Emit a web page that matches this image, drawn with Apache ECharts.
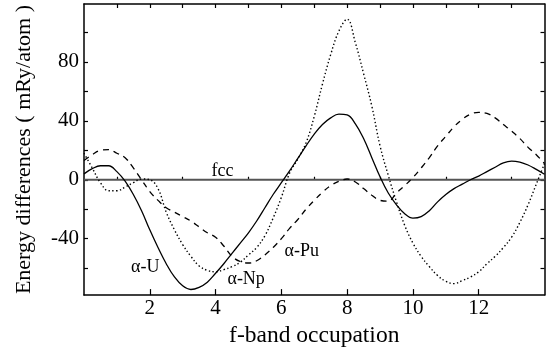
<!DOCTYPE html>
<html>
<head>
<meta charset="utf-8">
<script src="https://cdn.jsdelivr.net/npm/echarts@6/dist/echarts.min.js"></script>
<style>html,body{margin:0;padding:0;background:#fff}#c{width:548px;height:353px}</style>
</head>
<body>
<div id="c"></div>
<script>
var occupation = [0,0.25,0.5,0.75,1,1.25,1.5,1.75,2,2.25,2.5,2.75,3,3.25,3.5,3.75,4,4.25,4.5,4.75,5,5.25,5.5,5.75,6,6.25,6.5,6.75,7,7.25,7.5,7.75,8,8.25,8.5,8.75,9,9.25,9.5,9.75,10,10.25,10.5,10.75,11,11.25,11.5,11.75,12,12.25,12.5,12.75,13,13.25,13.5,13.75,14];
var alphaU  = [4,7.5,9.5,9.5,5.5,-1,-10,-21,-34,-46,-57,-66,-72,-74.5,-73,-69.5,-63.5,-57,-50,-43,-36,-28,-19,-10,-2,6,14.5,23,31,37.5,42,44.5,44,38,28,15,2,-9,-17,-23,-26,-25,-21,-15,-10,-6,-3,0,2.5,5.5,8.5,11.5,12.7,12,10,7,3.7];
var alphaNp = [18,8,-2,-7.5,-7.5,-5,-2,0.5,0,-6,-22,-34,-44,-52,-58.5,-61.5,-62.5,-61,-59,-56,-51,-46,-38,-26,-12,4.5,14,25,43,65,85,101,109,93,72,50,23,3,-15,-31,-43,-52,-59,-65,-69,-70.5,-68.5,-66,-62.5,-57,-52,-46,-39,-29,-17,-3,11];
var alphaPu = [13,17,20,20.5,18,15,8,0,-8,-14,-19,-22,-25,-28,-32,-36,-39,-45,-52,-55.5,-56.5,-55,-51,-46,-40,-33,-27,-20,-14,-8.5,-4,-1,0.5,-1.5,-6,-10.5,-14,-14.5,-9,-4,1.5,8,15,23,29.5,36,41,44.5,45.8,45,42,37.5,33,28,22,17,11];
var fccX = [0,14];
var fccY = [0,0];
var xTickLabels = [2,4,6,8,10,12];
var xMinorTicks = [1,3,5,7,9,11,13];
var xTopTicks = [1,2,3,4,5,6,7,8,9,10,11,12,13];
var yTickLabels = [-40,0,40,80];
var yTicks = [-60,-40,-20,0,20,40,60,80,100];
var labelTexts = ['fcc','α-U','α-Np','α-Pu'];
var labelX = [4.21,1.86,4.93,6.62];
var labelY = [5.9,-59.5,-67.4,-48.7];

var FONT = "'Liberation Serif','Times New Roman',serif";
function pairs(xs, ys){ return xs.map(function(x,i){ return [x, ys[i]]; }); }

var chart = echarts.init(document.getElementById('c'), null, {renderer:'canvas'});
var axLine = {show:true, onZero:false, lineStyle:{color:'#000', width:1.5}};
var option = {
  animation:false,
  backgroundColor:'#fff',
  grid:{left:84, right:3.5, top:4, bottom:55, containLabel:false},
  xAxis:[
    {type:'value', min:0, max:14, position:'bottom',
     axisLine:axLine,
     axisTick:{show:true, inside:true, length:6, customValues:xTickLabels, lineStyle:{color:'#000', width:1.2}},
     axisLabel:{show:true, customValues:xTickLabels, fontFamily:FONT, fontSize:21, color:'#000', margin:3},
     splitLine:{show:false},
     name:'f-band occupation', nameLocation:'middle', nameGap:24,
     nameTextStyle:{fontFamily:FONT, fontSize:23.5, color:'#000'}},
    {type:'value', min:0, max:14, position:'bottom',
     axisLine:{show:false},
     axisTick:{show:true, inside:true, length:3, customValues:xMinorTicks, lineStyle:{color:'#000', width:1.2}},
     axisLabel:{show:false}, splitLine:{show:false}},
    {type:'value', min:0, max:14, position:'top',
     axisLine:axLine,
     axisTick:{show:true, inside:true, length:4, customValues:xTopTicks, lineStyle:{color:'#000', width:1.2}},
     axisLabel:{show:false}, splitLine:{show:false}}
  ],
  yAxis:[
    {type:'value', min:-78.3, max:119.3, position:'left',
     axisLine:axLine,
     axisTick:{show:true, inside:true, length:4, customValues:yTicks, lineStyle:{color:'#000', width:1.2}},
     axisLabel:{show:true, customValues:yTickLabels, fontFamily:FONT, fontSize:21, color:'#000', margin:5},
     splitLine:{show:false},
     name:'Energy differences ( mRy/atom )', nameLocation:'middle', nameGap:49,
     nameTextStyle:{fontFamily:FONT, fontSize:22, color:'#000'}},
    {type:'value', min:-78.3, max:119.3, position:'right',
     axisLine:axLine,
     axisTick:{show:true, inside:true, length:4, customValues:yTicks, lineStyle:{color:'#000', width:1.2}},
     axisLabel:{show:false}, splitLine:{show:false}}
  ],
  series:[
    {name:'fcc', type:'line', data:pairs(fccX, fccY), showSymbol:false,
     lineStyle:{color:'#555', width:2}, z:1},
    {name:'α-U', type:'line', data:pairs(occupation, alphaU), smooth:0.4, showSymbol:false,
     lineStyle:{color:'#000', width:1.3, type:'solid'}, z:3},
    {name:'α-Np', type:'line', data:pairs(occupation, alphaNp), smooth:0.4, showSymbol:false,
     lineStyle:{color:'#000', width:1.4, type:[1.4,2.4]}, z:3},
    {name:'α-Pu', type:'line', data:pairs(occupation, alphaPu), smooth:0.4, showSymbol:false,
     lineStyle:{color:'#000', width:1.3, type:[6,5]}, z:3}
  ]
};
chart.setOption(option);

var g = labelTexts.map(function(t, i){
  var p = chart.convertToPixel({xAxisIndex:0, yAxisIndex:0}, [labelX[i], labelY[i]]);
  return {type:'text', x:p[0], y:p[1], z:10,
    style:{text:t, fill:'#000', font:'18px ' + FONT, textAlign:'center', textVerticalAlign:'middle'}};
});
chart.setOption({graphic:g});
</script>
</body>
</html>
